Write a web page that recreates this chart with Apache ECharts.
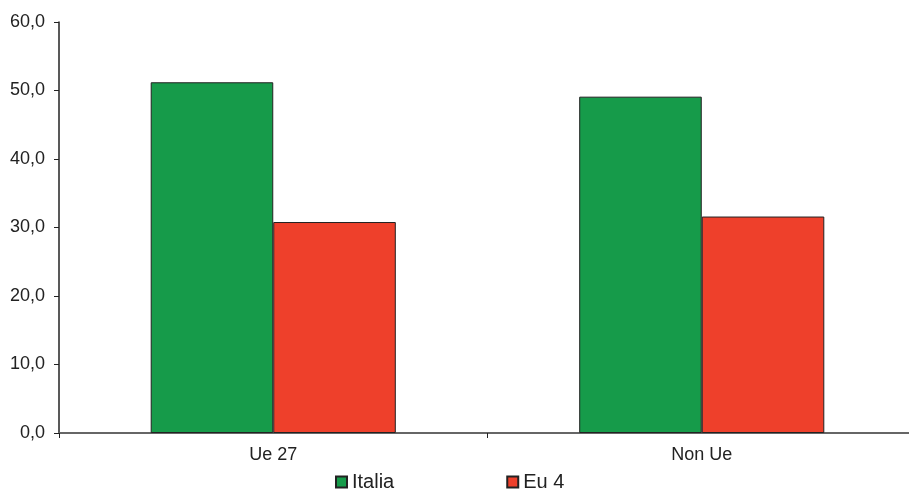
<!DOCTYPE html>
<html>
<head>
<meta charset="utf-8">
<script src="https://cdn.jsdelivr.net/npm/echarts@6/dist/echarts.min.js"></script>
<style>
  html, body { margin: 0; padding: 0; background: #fff; }
  #chart { width: 909px; height: 491px; }
</style>
</head>
<body>
<div id="chart"></div>
<script>
const categories = ['Ue 27', 'Non Ue']
const italia = [51.2, 49.1]
const eu4 = [30.8, 31.6]

const chart = echarts.init(document.getElementById('chart'))

const option = {
  animation: false,
  textStyle: { fontFamily: 'Liberation Sans, Arial, sans-serif' },
  grid: { left: 59, width: 857, top: 22, bottom: 58, outerBoundsMode: 'none' },
  legend: {
    data: ['Italia', 'Eu 4'],
    left: 330,
    top: 467,
    itemWidth: 11,
    itemHeight: 11,
    itemGap: 112,
    icon: 'rect',
    textStyle: { fontSize: 20, color: '#222' }
  },
  xAxis: {
    type: 'category',
    data: categories,
    axisLine: { lineStyle: { color: '#666', width: 2 } },
    axisTick: { show: true, length: 5, lineStyle: { color: '#222' } },
    axisLabel: { fontSize: 18, color: '#222', margin: 13 }
  },
  yAxis: {
    type: 'value',
    min: 0,
    max: 60,
    interval: 10,
    splitLine: { show: false },
    axisLine: { show: true, lineStyle: { color: '#222', width: 1.5 } },
    axisTick: { show: true, length: 5, lineStyle: { color: '#222' } },
    axisLabel: {
      fontSize: 18,
      color: '#222',
      margin: 14,
      formatter: function (v) { return v.toFixed(1).replace('.', ',') }
    }
  },
  series: [
    {
      name: 'Italia',
      type: 'bar',
      data: italia,
      barGap: '0%',
      barCategoryGap: '42.8%',
      itemStyle: { color: '#169B4A', borderColor: '#222', borderWidth: 1 }
    },
    {
      name: 'Eu 4',
      type: 'bar',
      data: eu4,
      itemStyle: { color: '#EE402B', borderColor: '#222', borderWidth: 1 }
    }
  ]
}

chart.setOption(option)
</script>
</body>
</html>
